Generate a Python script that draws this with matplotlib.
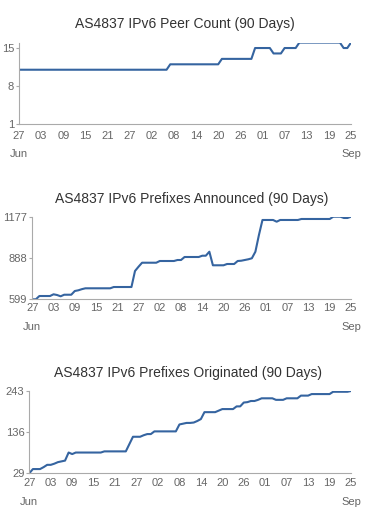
import numpy as np
import pandas as pd
import matplotlib
matplotlib.use('Agg')
import matplotlib.pyplot as plt
import matplotlib.dates as mdates

plt.rcParams['font.family'] = ['Liberation Sans', 'DejaVu Sans']

days = pd.date_range('2015-06-27', '2015-09-25', freq='D')

peer_count = [11] * 41 + [12] * 14 + [13] * 9 + [15] * 5 + [14] * 3 + [15] * 4 + [16] * 12 + [15, 15, 16]

prefixes_announced = [
    599, 599, 622, 622, 622, 622, 634, 629, 620, 631,
    631, 631, 657, 662, 670, 676, 676, 676, 676, 676,
    676, 676, 676, 685, 685, 685, 685, 685, 685, 797,
    827, 855, 855, 855, 855, 855, 867, 867, 867, 867,
    867, 874, 874, 895, 895, 895, 895, 895, 904, 904,
    932, 837, 837, 837, 837, 846, 846, 846, 867, 869,
    874, 879, 886, 932, 1049, 1154, 1154, 1154, 1154, 1142,
    1154, 1154, 1154, 1154, 1154, 1154, 1161, 1161, 1161, 1161,
    1161, 1161, 1161, 1161, 1161, 1177, 1177, 1177, 1168, 1168,
    1177,
]

prefixes_originated = [
    29, 40, 40, 40, 45, 51, 51, 54, 58, 60,
    62, 83, 79, 83, 83, 83, 83, 83, 83, 83,
    83, 86, 86, 86, 86, 86, 86, 86, 105, 124,
    124, 124, 128, 131, 131, 138, 138, 138, 138, 138,
    138, 138, 156, 158, 160, 160, 161, 165, 170, 188,
    188, 188, 188, 192, 196, 196, 196, 196, 203, 203,
    213, 214, 217, 217, 220, 224, 224, 224, 224, 220,
    220, 220, 224, 224, 224, 224, 231, 231, 231, 235,
    235, 235, 235, 235, 235, 241, 241, 241, 241, 241,
    243,
]

charts = [
    ('AS4837 IPv6 Peer Count (90 Days)', peer_count, (1, 16), [1, 8, 15]),
    ('AS4837 IPv6 Prefixes Announced (90 Days)', prefixes_announced, (599, 1177), [599, 888, 1177]),
    ('AS4837 IPv6 Prefixes Originated (90 Days)', prefixes_originated, (29, 243), [29, 136, 243]),
]

# axes boxes in pixels: left, right, top, bottom ; title y ; label offsets
W, H = 383, 520
boxes = [
    (19, 351, 42.6, 124, 24, 185, 11, 30),
    (32.3, 351, 216.7, 299.3, 199, 191.7, 7.5, 27.7),
    (29.3, 351, 391, 473.3, 373.3, 188.3, 9, 28.7),
]

line_color = '#3564a0'
axis_color = '#aaaaaa'
tick_color = '#666666'

fig = plt.figure(figsize=(W / 100, H / 100), dpi=100)

for (title, values, ylim, yticks), (l, r, t, b, ty, tx, xpad, mpad) in zip(charts, boxes):
    ax = fig.add_axes([l / W, 1 - b / H, (r - l) / W, (b - t) / H])
    ax.plot(days, values, color=line_color, linewidth=1.5, solid_joinstyle='round')
    ax.set_xlim(days[0], days[-1])
    ax.set_ylim(*ylim)
    ax.set_yticks(yticks)
    ax.xaxis.set_major_locator(mdates.DayLocator(bymonthday=None, interval=1))
    ax.set_xticks(days[::6])
    ax.xaxis.set_major_formatter(mdates.DateFormatter('%d'))
    for s in ['top', 'right']:
        ax.spines[s].set_visible(False)
    for s in ['left', 'bottom']:
        ax.spines[s].set_color(axis_color)
        ax.spines[s].set_linewidth(0.8)
    ax.tick_params(axis='y', length=2, width=0.8, color=axis_color, labelcolor=tick_color,
                   labelsize=8, pad=1.5)
    ax.tick_params(axis='x', length=0, labelcolor=tick_color, labelsize=8, pad=xpad * 0.72 - 3)
    ax.patch.set_visible(False)
    for d, lab in [(days[0], 'Jun'), (days[-1], 'Sep')]:
        ax.annotate(lab, xy=(d, 0), xycoords=('data', 'axes fraction'),
                    xytext=(0, -mpad * 0.72), textcoords='offset points',
                    ha='center', va='center', fontsize=8, color=tick_color)
    fig.text(tx / W, 1 - ty / H, title, ha='center', va='center', fontsize=10, color='#333333')

fig.savefig('out.png', dpi=100)
